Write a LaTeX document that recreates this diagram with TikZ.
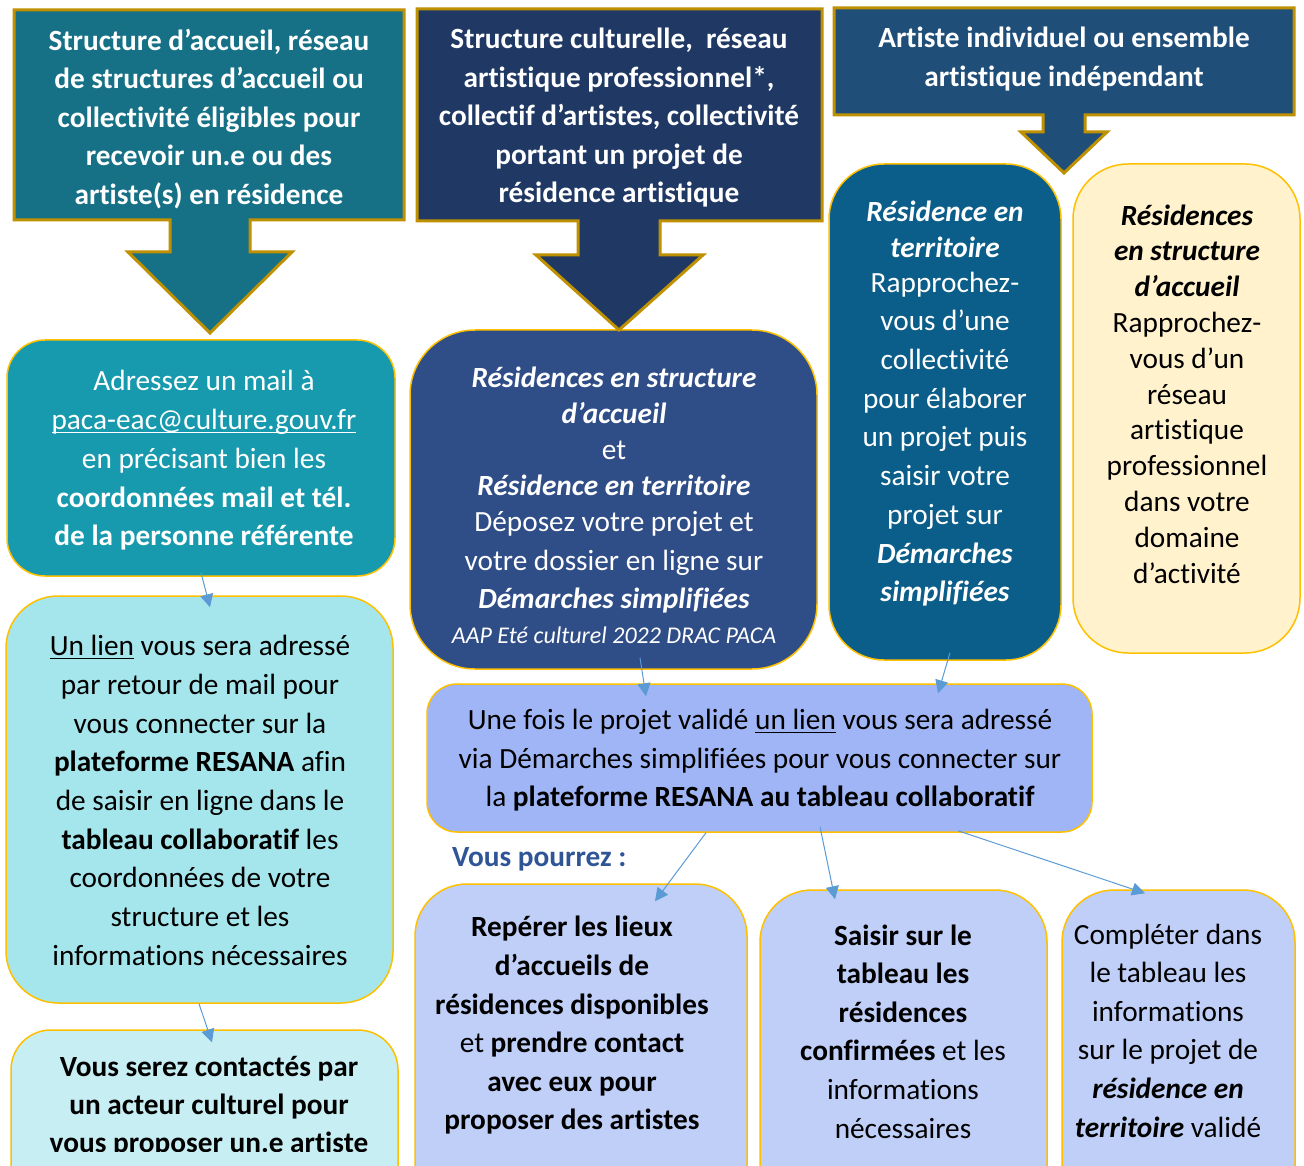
\documentclass[tikz,border=0pt]{standalone}
\usepackage{fontspec}
\setmainfont{Carlito}[RawFeature={-liga}]
\usetikzlibrary{arrows.meta}
\definecolor{hOne}{HTML}{167186}
\definecolor{hTwo}{HTML}{203864}
\definecolor{hThree}{HTML}{1F4E79}
\definecolor{hBorder}{HTML}{BF9000}
\definecolor{gBorder}{HTML}{FFC000}
\definecolor{cA}{HTML}{189AAE}
\definecolor{cB}{HTML}{A5E6EC}
\definecolor{cC}{HTML}{C7EEF3}
\definecolor{cD}{HTML}{2F4D87}
\definecolor{cE}{HTML}{0B5E89}
\definecolor{cF}{HTML}{FFF2CC}
\definecolor{cG}{HTML}{9FB5F5}
\definecolor{cH}{HTML}{C0CFF8}
\definecolor{arr}{HTML}{5B9BD5}
\definecolor{vp}{HTML}{2F5597}
\newsavebox\ulbox
\newcommand\myul[1]{\sbox\ulbox{#1}\rlap{\rule[-3.5pt]{\wd\ulbox}{1.5pt}}\usebox\ulbox}
\begin{document}
\begin{tikzpicture}[x=1pt,y=-1pt,
  rbox/.style={draw=gBorder, line width=1.5pt, inner sep=0pt},
  hdr/.style={draw=hBorder, line width=3pt, line join=miter},
  txt/.style={align=center, inner sep=0pt, font=\fontsize{29.3}{38.7}\selectfont},
  conn/.style={draw=arr, line width=1pt, -{Triangle[length=13pt,width=13pt]}, arr}]
\useasboundingbox (0,0) rectangle (1304,1166);
\clip (0,0) rectangle (1304,1166);
\fill[white] (0,0) rectangle (1304,1166);

% boxes
\node[rbox, fill=cA, rounded corners=38pt, minimum width=388pt, minimum height=236pt] (A) at (201,458) {};
\node[rbox, fill=cB, rounded corners=52pt, minimum width=387pt, minimum height=407pt] (B) at (199.5,799.5) {};
\node[rbox, fill=cC, rounded corners=40pt, minimum width=387pt, minimum height=190pt] (C) at (204.5,1125) {};
\node[rbox, fill=cD, rounded corners=65pt, minimum width=407pt, minimum height=339pt] (D) at (613.5,499.5) {};
\node[rbox, fill=cE, rounded corners=55pt, minimum width=232pt, minimum height=496pt] (E) at (945,412) {};
\node[rbox, fill=cF, rounded corners=55pt, minimum width=227pt, minimum height=489pt] (F) at (1186.5,408.5) {};
\node[rbox, fill=cG, rounded corners=30pt, minimum width=665pt, minimum height=148pt] (G) at (759.5,758) {};
\node[rbox, fill=cH, rounded corners=52pt, minimum width=332pt, minimum height=336pt] (H) at (581,1052) {};
\node[rbox, fill=cH, rounded corners=52pt, minimum width=287pt, minimum height=330pt] (I) at (903.5,1055) {};
\node[rbox, fill=cH, rounded corners=52pt, minimum width=233pt, minimum height=330pt] (J) at (1178.5,1055) {};

% headers
\draw[hdr, fill=hOne] (14,10) -- (404,10) -- (404,220) -- (250,220) -- (250,252) -- (292,252) -- (210,333) -- (128,252) -- (170,252) -- (170,220) -- (14,220) -- cycle;
\draw[hdr, fill=hTwo] (417,9) -- (822,9) -- (822,221) -- (660,221) -- (660,255) -- (703,255) -- (619,330) -- (536,255) -- (578,255) -- (578,221) -- (417,221) -- cycle;
\draw[hdr, fill=hThree] (834,8) -- (1294,8) -- (1294,115) -- (1085,115) -- (1085,132) -- (1107,132) -- (1064,173) -- (1021,132) -- (1043,132) -- (1043,115) -- (834,115) -- cycle;

\node[txt, text=white, font=\bfseries\fontsize{29.3}{38.5}\selectfont] (h1) at (209,119) {Structure d’accueil, réseau\\de structures d’accueil ou\\collectivité éligibles pour\\recevoir un.e ou des\\artiste(s) en résidence};
\node[txt, text=white, font=\bfseries\fontsize{29.3}{38.5}\selectfont] (h2) at (619,118) {Structure culturelle,\ \ réseau\\artistique professionnel*,\\collectif d’artistes, collectivité\\portant un projet de\\résidence artistique};
\node[txt, text=white, font=\bfseries\fontsize{29.3}{38.5}\selectfont] (h3) at (1064,59) {Artiste individuel ou ensemble\\artistique indépendant};

% texts
\node[txt, text=white] (tA) at (204,460.5) {Adressez un mail à\\\myul{paca-eac@culture.gouv.fr}\\en précisant bien les\\\textbf{coordonnées mail et tél.}\\\textbf{de la personne référente}};
\node[txt] (tB) at (200,800.5) {\myul{Un lien} vous sera adressé\\par retour de mail pour\\vous connecter sur la\\\textbf{plateforme RESANA} afin\\de saisir en ligne dans le\\\textbf{tableau collaboratif} les\\coordonnées de votre\\structure et les\\informations nécessaires};
\begin{scope}
\clip (0,0) rectangle (1304,1151);
\node[txt, font=\bfseries\fontsize{29.3}{38}\selectfont] (tC) at (209,1107) {Vous serez contactés par\\un acteur culturel pour\\vous proposer un.e artiste};
\end{scope}
\node[txt, text=white, font=\fontsize{29.3}{36}\selectfont] (tD) at (614,505) {\textbf{\textit{Résidences en structure}}\\\textbf{\textit{d’accueil}}\\et\\\textbf{\textit{Résidence en territoire}}\\Déposez votre projet et\\[3pt]votre dossier en ligne sur\\[2pt]\textbf{\textit{Démarches simplifiées}}\\[-1pt]{\fontsize{24}{36}\selectfont\itshape AAP Eté culturel 2022 DRAC PACA}};
\node[txt, text=white] (tE) at (945,403.5) {\textbf{\textit{Résidence en}}\\[-2.7pt]\textbf{\textit{territoire}}\\[-3.7pt]Rapprochez-\\vous d’une\\collectivité\\pour élaborer\\un projet puis\\saisir votre\\projet sur\\\textbf{\textit{Démarches}}\\\textbf{\textit{simplifiées}}};
\node[txt, font=\fontsize{29.3}{35.8}\selectfont] (tF) at (1187,394) {\textbf{\textit{Résidences}}\\\textbf{\textit{en structure}}\\\textbf{\textit{d’accueil}}\\Rapprochez-\\vous d’un\\réseau\\artistique\\professionnel\\dans votre\\domaine\\d’activité};
\node[txt, font=\fontsize{29.3}{38.5}\selectfont] (tG) at (760,760.5) {Une fois le projet validé \myul{un lien} vous sera adressé\\via Démarches simplifiées pour vous connecter sur\\la \textbf{plateforme RESANA au tableau collaboratif}};
\node[anchor=west, inner sep=0pt, text=vp, font=\bfseries\fontsize{29.3}{35}\selectfont] (vp) at (452,859) {Vous pourrez :};
\node[txt, font=\fontsize{29.3}{38.6}\selectfont] (tH) at (572,1025.5) {\textbf{Repérer les lieux}\\\textbf{d’accueils de}\\\textbf{résidences disponibles}\\et \textbf{prendre contact}\\\textbf{avec eux pour}\\\textbf{proposer des artistes}};
\node[txt, font=\fontsize{29.3}{38.6}\selectfont] (tI) at (903,1031.5) {\textbf{Saisir sur le}\\\textbf{tableau les}\\\textbf{résidences}\\\textbf{confirmées} et les\\informations\\nécessaires};
\node[txt, font=\fontsize{29.3}{38.6}\selectfont] (tJ) at (1168,1030.5) {Compléter dans\\le tableau les\\informations\\sur le projet de\\\textbf{\textit{résidence en}}\\\textbf{\textit{territoire}} validé};

% connectors
\draw[conn] ([shift={(0,-4)}]A.south) -- ([shift={(10.5,12)}]B.north);
\draw[conn] ([shift={(-0.5,0)}]B.south) -- ([shift={(7.5,13)}]C.north);
\draw[conn] ([shift={(26.5,-12)}]D.south) -- ([shift={(-113.5,13)}]G.north);
\draw[conn] ([shift={(5,-8)}]E.south) -- ([shift={(178.5,10)}]G.north);
\draw[conn] ([shift={(-53.5,0)}]G.south) -- ([shift={(74,18)}]H.north);
\draw[conn] ([shift={(60.5,-6)}]G.south) -- ([shift={(-68.5,10)}]I.north);
\draw[conn] ([shift={(198.5,-2)}]G.south) -- ([shift={(-33.5,4)}]J.north);
\end{tikzpicture}
\end{document}
